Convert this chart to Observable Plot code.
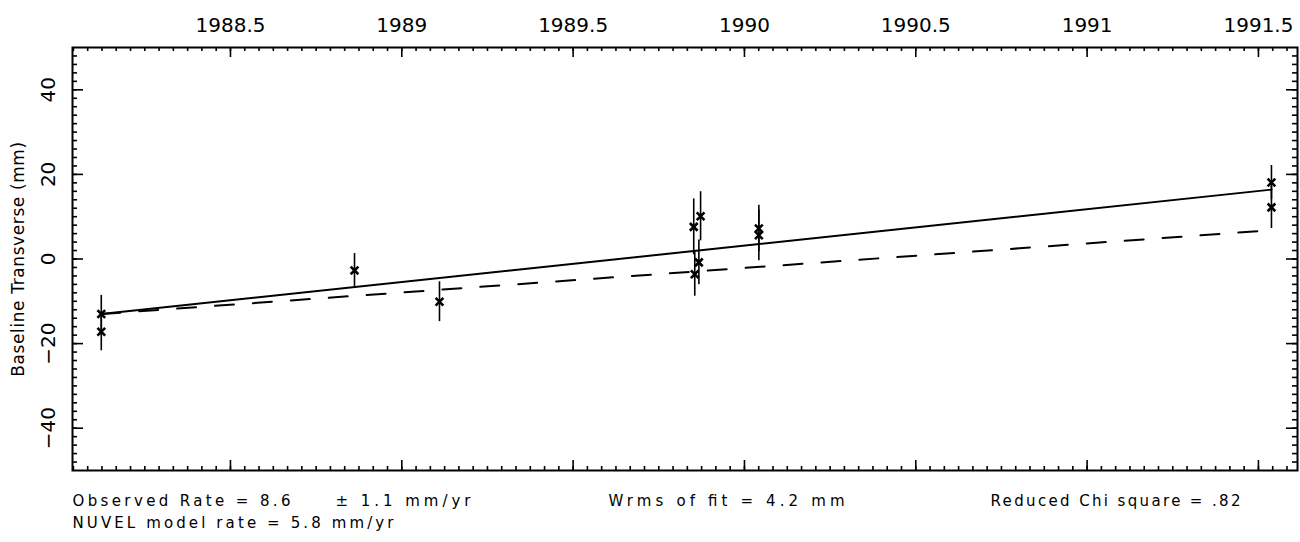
<!DOCTYPE html>
<html>
<head>
<meta charset="utf-8">
<script src="https://cdn.jsdelivr.net/npm/d3@7"></script>
<script src="https://cdn.jsdelivr.net/npm/@observablehq/plot@0.6"></script>
<style>
  html, body { margin: 0; padding: 0; background: #fff; overflow: hidden; }
  svg { display: block; }
  .ylab text { letter-spacing: 0.6px; }
</style>
</head>
<body>
<div id="chart"></div>
<script>
// ---- data ----
const obsYears  = [1988.123, 1988.123, 1988.862, 1989.110, 1989.852, 1989.855, 1989.867, 1989.872, 1990.042, 1990.042, 1991.538, 1991.538];
const obsValues = [-13.0, -17.2, -2.7, -10.1, 7.6, -3.6, -0.8, 10.1, 7.2, 5.6, 18.1, 12.2];
const obsErrors = [4.4, 4.5, 4.0, 4.7, 6.6, 5.2, 5.3, 5.8, 5.5, 6.0, 4.0, 5.0];

const fitYears   = [1988.123, 1991.538];
const fitValues  = [-13.0, 16.4];   // observed rate 8.6 mm/yr
const nuvelValues = [-13.0, 6.8];   // NUVEL model rate 5.8 mm/yr

const xTickLabels = [1988.5, 1989, 1989.5, 1990, 1990.5, 1991, 1991.5];
const yTickLabels = [-40, -20, 0, 20, 40];
const xDomain = [1988.039, 1991.614];
const yDomain = [-50, 50];

const captionRow1 = ["Observed Rate = 8.6", "± 1.1 mm/yr", "Wrms of fit = 4.2 mm", "Reduced Chi square = .82"];
const captionRow2 = ["NUVEL model rate = 5.8 mm/yr"];
const yLabel = "Baseline Transverse (mm)";

// ---- build tables ----
const obs = obsYears.map((t, i) => ({t, v: obsValues[i], e: obsErrors[i]}));
const fit = fitYears.map((t, i) => ({t, v: fitValues[i]}));
const nuvel = fitYears.map((t, i) => ({t, v: nuvelValues[i]}));

const W = 1300, H = 542;
const mL = 72, mR = 3, mT = 47, mB = 72;
const fw = W - mL - mR, fh = H - mT - mB;
const ux = (xDomain[1] - xDomain[0]) / fw;
const uy = (yDomain[1] - yDomain[0]) / fh;

const step = 1 / 24;
const xMinor = d3.range(Math.ceil((xDomain[0] - 1988.5) / step), Math.floor((xDomain[1] - 1988.5) / step) + 1)
  .map(k => 1988.5 + k * step);
const yMinor = d3.range(-48, 50, 2);

const font = "DejaVu Sans, sans-serif";
const [x0, x1] = xDomain, [y0, y1] = yDomain;

// caption: [dx from frame left, dy below frame bottom, target width in px]
const capLayout = [[0, 35, 218], [263, 35, 135], [536, 35, 236], [918, 35, 250], [0, 57, 321]];
const capTexts = [...captionRow1, ...captionRow2];

const tickStroke = {stroke: "#000", strokeWidth: 1.6};

const chart = Plot.plot({
  width: W, height: H,
  marginLeft: mL, marginRight: mR, marginTop: mT, marginBottom: mB,
  x: {domain: xDomain, axis: null},
  y: {domain: yDomain, axis: null},
  style: {fontFamily: font},
  marks: [
    Plot.frame({strokeWidth: 2}),
    // inward ticks on all four sides
    Plot.ruleX(xMinor, {x: d => d, y1: y1, y2: y1 - 4 * uy, ...tickStroke}),
    Plot.ruleX(xMinor, {x: d => d, y1: y0, y2: y0 + 4 * uy, ...tickStroke}),
    Plot.ruleX(xTickLabels, {x: d => d, y1: y1, y2: y1 - 10 * uy, ...tickStroke}),
    Plot.ruleX(xTickLabels, {x: d => d, y1: y0, y2: y0 + 10 * uy, ...tickStroke}),
    Plot.ruleY(yMinor, {y: d => d, x1: x0, x2: x0 + 5 * ux, ...tickStroke}),
    Plot.ruleY(yMinor, {y: d => d, x1: x1, x2: x1 - 5 * ux, ...tickStroke}),
    Plot.ruleY(yTickLabels, {y: d => d, x1: x0, x2: x0 + 11 * ux, ...tickStroke}),
    Plot.ruleY(yTickLabels, {y: d => d, x1: x1, x2: x1 - 11 * ux, ...tickStroke}),
    // tick labels
    Plot.text(xTickLabels, {x: d => d, frameAnchor: "top", dy: -22, lineAnchor: "middle", textAnchor: "middle",
      text: d => String(d), fontSize: 20}),
    Plot.text(yTickLabels, {y: d => d, frameAnchor: "left", dx: -24, rotate: -90, lineAnchor: "middle", textAnchor: "middle",
      text: d => (d < 0 ? "\u2212" + Math.abs(d) : String(d)), fontSize: 20}),
    Plot.text([yLabel], {frameAnchor: "left", dx: -54, rotate: -90, lineAnchor: "middle", textAnchor: "middle",
      text: d => d, fontSize: 17, className: "ylab"}),
    // fits
    Plot.line(fit, {x: "t", y: "v", strokeWidth: 2}),
    Plot.line(nuvel, {x: "t", y: "v", strokeWidth: 2, strokeDasharray: "19,19"}),
    // observations
    Plot.ruleX(obs, {x: "t", y1: d => d.v - d.e, y2: d => d.v + d.e, strokeWidth: 1.6}),
    Plot.dot(obs, {x: "t", y: "v", symbol: "times", r: 3.6, strokeWidth: 2.6}),
    // caption texts
    ...capTexts.map((c, i) => Plot.text([c], {frameAnchor: "bottom-left", dx: capLayout[i][0], dy: capLayout[i][1],
      lineAnchor: "bottom", textAnchor: "start", text: d => d, fontSize: 15, className: "cap" + i}))
  ]
});
document.getElementById("chart").appendChild(chart);
// stretch caption texts to the widths in the reference
capLayout.forEach((c, i) => {
  chart.querySelectorAll(".cap" + i + " text").forEach(t => {
    t.setAttribute("textLength", c[2]);
    t.setAttribute("lengthAdjust", "spacing");
  });
});
</script>
</body>
</html>
